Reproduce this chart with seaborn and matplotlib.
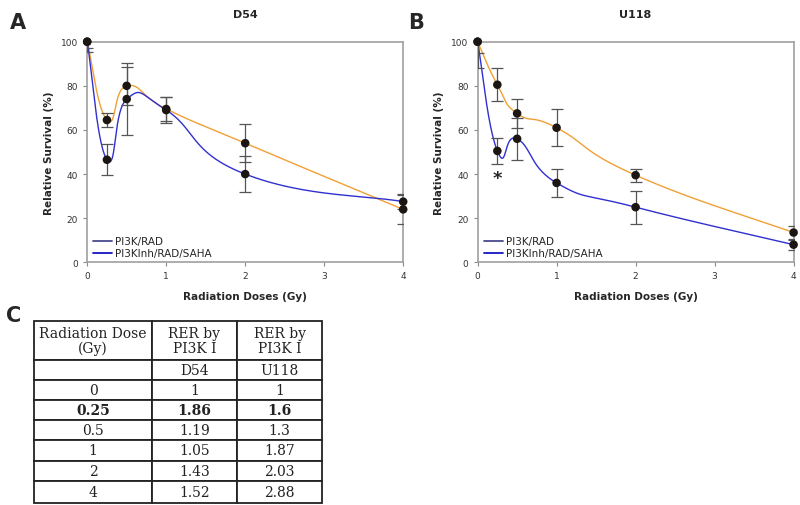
import numpy as np
import seaborn as sns
import matplotlib.pyplot as plt

# doses (Gy)
doses = [0, 0.25, 0.5, 1, 2, 4]

# D54 survival (%)
d54_rad = [100, 64.5, 80, 69.5, 54, 24]
d54_rad_err = [3, 3, 8.5, 5.5, 8.5, 6.5]
d54_saha = [100, 46.5, 74, 69, 40, 27.5]
d54_saha_err = [4.5, 7, 16.5, 6, 8, 3.5]

# U118 survival (%)
u118_rad = [100, 80.5, 67.5, 61, 39.5, 13.5]
u118_rad_err = [5, 7.5, 6.5, 8.5, 3, 2.8]
u118_saha = [100, 50.5, 56, 36, 25, 8]
u118_saha_err = [12, 6, 9.5, 6.5, 7.5, 2.3]

legend_labels = ['PI3K/RAD', 'PI3KInh/RAD/SAHA']

# table C
table_header = ['Radiation Dose\n(Gy)', 'RER by\nPI3K I', 'RER by\nPI3K I']
table_dose = ['', '0', '0.25', '0.5', '1', '2', '4']
table_d54 = ['D54', '1', '1.86', '1.19', '1.05', '1.43', '1.52']
table_u118 = ['U118', '1', '1.6', '1.3', '1.87', '2.03', '2.88']

orange = '#f0a035'
blue = '#3030d0'


def smooth(x, y, k=4.0, n=50):
    # excel-like smoothed line (bezier through the points)
    p = np.column_stack([np.asarray(x, float), np.asarray(y, float)])
    pts = np.vstack([p[0], p, p[-1]])
    out = []
    t = np.linspace(0, 1, n)[:, None]
    for i in range(1, len(pts) - 2):
        p0, p1, p2, p3 = pts[i - 1], pts[i], pts[i + 1], pts[i + 2]
        dx = p2[0] - p1[0]
        o1 = (p2 - p0) / k
        o2 = (p3 - p1) / k
        # keep handles inside the segment so the curve does not loop
        if o1[0] > 0.7 * dx:
            o1 = o1 * 0.7 * dx / o1[0]
        if o2[0] > 0.7 * dx:
            o2 = o2 * 0.7 * dx / o2[0]
        c1, c2 = p1 + o1, p2 - o2
        seg = ((1 - t) ** 3) * p1 + 3 * ((1 - t) ** 2) * t * c1 + 3 * (1 - t) * t ** 2 * c2 + t ** 3 * p2
        out.append(seg)
    out = np.vstack(out)
    return out[:, 0], out[:, 1]


sns.set_style('white')
plt.rcParams['font.family'] = ['DejaVu Sans']

fig = plt.figure(figsize=(8, 5.06), dpi=100)
axA = fig.add_axes([0.109, 0.4796, 0.395, 0.436])
axB = fig.add_axes([0.597, 0.4796, 0.395, 0.436])

panels = [
    (axA, 'D54', d54_rad, d54_rad_err, d54_saha, d54_saha_err),
    (axB, 'U118', u118_rad, u118_rad_err, u118_saha, u118_saha_err),
]

for ax, title, r, re, s, se in panels:
    xs, ys = smooth(doses, r)
    ax.plot(xs, ys, color=orange, lw=1, zorder=2)
    xs, ys = smooth(doses, s)
    ax.plot(xs, ys, color=blue, lw=1, zorder=2)
    ax.errorbar(doses, r, yerr=re, fmt='none', ecolor='#555555', elinewidth=0.9,
                capsize=4, capthick=0.9, zorder=3)
    ax.errorbar(doses, s, yerr=se, fmt='none', ecolor='#555555', elinewidth=0.9,
                capsize=4, capthick=0.9, zorder=3)
    sns.scatterplot(x=doses + doses, y=r + s, ax=ax, color='#1c1612', s=38,
                    edgecolor='none', zorder=4, clip_on=False)
    ax.set_xlim(0, 4)
    ax.set_ylim(0, 100)
    ax.set_xticks([0, 1, 2, 3, 4])
    ax.set_yticks([0, 20, 40, 60, 80, 100])
    ax.tick_params(axis='both', labelsize=6.5, labelcolor='#333333', color='#888888',
                   length=3, width=0.8, direction='out', left=True, bottom=True)
    for sp in ax.spines.values():
        sp.set_color('#a0a0a0')
        sp.set_linewidth(1.2)
    ax.set_xlabel('Radiation Doses (Gy)', fontsize=7.5, fontweight='bold', labelpad=8)
    ax.set_ylabel('Relative Survival (%)', fontsize=7.5, fontweight='bold', labelpad=5)
    ax.set_title(title, fontsize=8, fontweight='bold', pad=18)
    h1, = ax.plot([], [], color='#4a4a90', lw=1.3)
    h2, = ax.plot([], [], color='#1515c0', lw=1.3)
    ax.legend([h1, h2], legend_labels, loc='lower left', frameon=False, fontsize=7.5,
              handlelength=1.8, handletextpad=0.3, labelspacing=0.2,
              borderaxespad=0.2, bbox_to_anchor=(0.0, -0.01))

axB.text(0.25, 38, '*', fontsize=13, fontweight='bold', ha='center', va='center')

fig.text(0.012, 0.975, 'A', fontsize=15, fontweight='bold', va='top')
fig.text(0.51, 0.975, 'B', fontsize=15, fontweight='bold', va='top')
fig.text(0.008, 0.395, 'C', fontsize=15, fontweight='bold', va='top')

# table C
axC = fig.add_axes([0.0425, 0.004, 0.3600, 0.3602])
axC.axis('off')
cells = [table_header] + [[a, b, c] for a, b, c in zip(table_dose, table_d54, table_u118)]
tbl = axC.table(cellText=cells, cellLoc='center', bbox=[0, 0, 1, 1],
                colWidths=[118, 85, 85])
tbl.auto_set_font_size(False)
row_h = [39, 20, 20, 20, 20, 21, 20, 22]
tot = sum(row_h)
for (i, j), cell in tbl.get_celld().items():
    cell.set_height(row_h[i] / tot)
    cell.set_linewidth(1.3)
    cell.set_edgecolor('#222222')
    txt = cell.get_text()
    txt.set_fontsize(10)
    txt.set_fontfamily('DejaVu Serif')
    txt.set_color('#222222')
    if i == 0:
        txt.set_linespacing(1.05)
    if i == 3:
        txt.set_fontweight('bold')

fig.savefig('out.png', dpi=100)
